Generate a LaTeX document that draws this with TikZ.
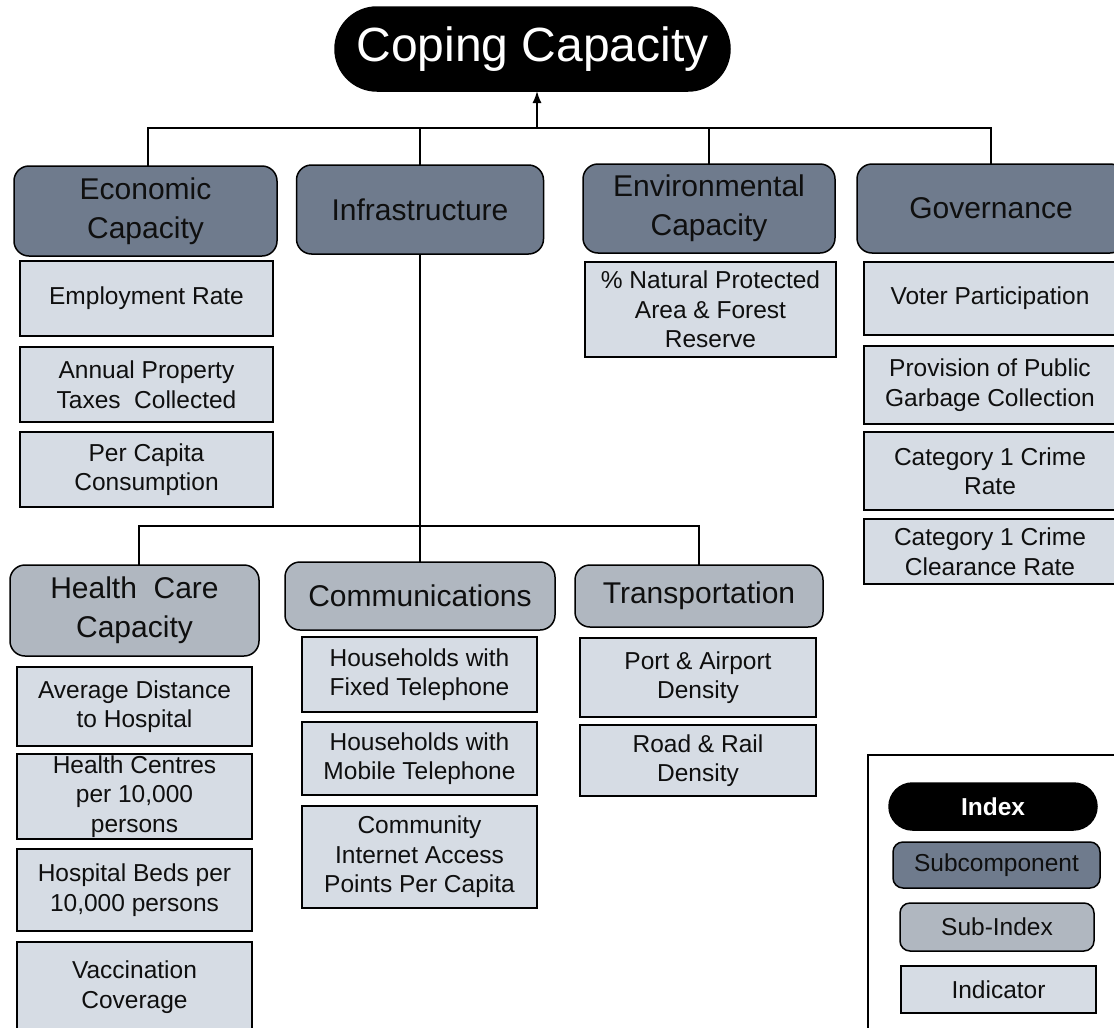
\documentclass[tikz,border=0pt]{standalone}
\usepackage{fontspec}
\setmainfont{Liberation Sans}
\usetikzlibrary{arrows.meta}
\definecolor{subc}{RGB}{111,123,141}
\definecolor{subi}{RGB}{176,183,192}
\definecolor{indc}{RGB}{214,220,228}
\definecolor{txt}{RGB}{15,15,15}
\tikzset{
 box/.style={draw=black, line width=1.5pt, inner sep=0pt, outer sep=0pt, align=center, text=txt},
 subcomp/.style={box, fill=subc, rounded corners=15pt, font=\fontsize{30}{39}\selectfont},
 subidx/.style={box, fill=subi, rounded corners=15pt, font=\fontsize{30}{39}\selectfont},
 indic/.style={box, fill=indc, font=\fontsize{24.5}{29.5}\selectfont},
 conn/.style={line width=1.5pt, draw=black},
}
\begin{document}
\begin{tikzpicture}[x=1pt,y=-1pt]
\useasboundingbox (0,0) rectangle (1114,1028);
\clip (0,0) rectangle (1114,1028);
\fill[white] (0,0) rectangle (1114,1028);

% top index
\node[box, fill=black, text=white, rounded corners=42pt, minimum width=395pt, minimum height=84pt,
  font=\fontsize{48}{56}\selectfont] (coping) at (532.5,49) {Coping Capacity};

% subcomponents
\node[subcomp, minimum width=263pt, minimum height=90pt] (econ) at (145.5,211) {Economic\\Capacity};
\node[subcomp, minimum width=247pt, minimum height=89pt] (infra) at (420,209.5) {Infrastructure};
\node[subcomp, minimum width=252pt, minimum height=89pt] (env) at (709,208.5) {Environmental\\Capacity};
\node[subcomp, minimum width=268pt, minimum height=89pt] (gov) at (991,208.5) {Governance};

% economic indicators
\node[indic, minimum width=253pt, minimum height=75pt] (emp) at (146.5,298.5) {Employment Rate};
\node[indic, minimum width=253pt, minimum height=75pt] (tax) at (146.5,384.5) {Annual Property\\Taxes\ \ Collected};
\node[indic, minimum width=253pt, minimum height=75pt] (pcc) at (146.5,469.5) {Per Capita\\Consumption};

% environmental indicator
\node[indic, minimum width=251pt, minimum height=95pt] (nat) at (710.5,309.5) {\% Natural Protected\\Area \& Forest\\Reserve};

% governance indicators
\node[indic, minimum width=252pt, minimum height=73pt] (vot) at (990,298.5) {Voter Participation};
\node[indic, minimum width=252pt, minimum height=78pt] (garb) at (990,385) {Provision of Public\\Garbage Collection};
\node[indic, minimum width=252pt, minimum height=78pt] (crime) at (990,471) {Category 1 Crime\\Rate};
\node[indic, minimum width=252pt, minimum height=65pt] (clear) at (990,551.5) {Category 1 Crime\\Clearance Rate};

% sub-indices
\node[subidx, minimum width=249pt, minimum height=91pt] (hc) at (134.5,610.5) {Health\ \ Care\\Capacity};
\node[subidx, minimum width=270pt, minimum height=68pt] (comm) at (420,596) {Communications};
\node[subidx, minimum width=248pt, minimum height=62pt] (trans) at (699,596) {Transportation};

% health indicators
\node[indic, minimum width=235pt, minimum height=79pt] (avg) at (134.5,706.5) {Average Distance\\to Hospital};
\node[indic, minimum width=235pt, minimum height=85pt] (hcen) at (134.5,796.5) {Health Centres\\per 10,000\\persons};
\node[indic, minimum width=235pt, minimum height=82pt] (beds) at (134.5,890) {Hospital Beds per\\10,000 persons};
\node[indic, minimum width=235pt, minimum height=90pt] (vacc) at (134.5,987) {Vaccination\\Coverage};

% communications indicators
\node[indic, minimum width=235pt, minimum height=75pt] (fix) at (419.5,674.5) {Households with\\Fixed Telephone};
\node[indic, minimum width=235pt, minimum height=73pt] (mob) at (419.5,758.5) {Households with\\Mobile Telephone};
\node[indic, minimum width=235pt, minimum height=102pt] (inet) at (419.5,857) {Community\\Internet Access\\Points Per Capita};

% transportation indicators
\node[indic, minimum width=236pt, minimum height=79pt] (port) at (698,677.5) {Port \& Airport\\Density};
\node[indic, minimum width=236pt, minimum height=71pt] (road) at (698,760.5) {Road \& Rail\\Density};

% connectors
\coordinate (bus) at (537,128);
\draw[conn] ([xshift=2.5pt]econ.north) |- (gov.north |- bus) -- (gov.north);
\draw[conn] (infra.north) -- (infra.north |- bus);
\draw[conn] (env.north) -- (env.north |- bus);
\draw[conn, -{Latex[length=12pt,width=9pt]}] (bus) -- (bus |- coping.south);

\coordinate (bus2) at (420,526);
\draw[conn] (infra.south) -- (comm.north);
\draw[conn] ([xshift=4.5pt]hc.north) |- (bus2) -| (trans.north);

% legend
\draw[line width=2pt] (868,755) rectangle (1130,1040);
\node[box, fill=black, text=white, rounded corners=23.5pt, minimum width=208pt, minimum height=47pt,
  font=\fontsize{24.5}{29.5}\selectfont\bfseries] (lidx) at (993,806.5) {Index};
\node[subcomp, rounded corners=10pt, minimum width=207pt, minimum height=46pt,
  font=\fontsize{24.5}{29.5}\selectfont] (lsub) at (996.5,865) {Subcomponent};
\node[subidx, rounded corners=10pt, minimum width=194pt, minimum height=48pt,
  font=\fontsize{24.5}{29.5}\selectfont] (lsi) at (997,927) {Sub-Index};
\node[indic, minimum width=195pt, minimum height=47pt] (lind) at (998.5,989.5) {Indicator};
\end{tikzpicture}
\end{document}
